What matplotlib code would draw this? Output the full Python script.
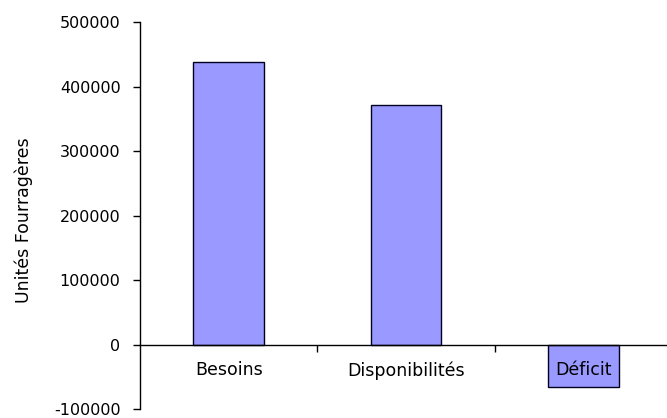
import matplotlib
matplotlib.use("Agg")
import matplotlib.pyplot as plt
from matplotlib.ticker import FixedLocator

# Forage balance (fodder units)
categories = ["Besoins", "Disponibilités", "Déficit"]
values = [438000, 372000, -66000]
yticks = [-100000, 0, 100000, 200000, 300000, 400000, 500000]
ylabel = "Unités Fourragères"

plt.rcParams["font.family"] = ["DejaVu Sans"]

fig = plt.figure(figsize=(6.67, 4.18), dpi=100)
fig.patch.set_facecolor("white")
ax = fig.add_axes([0.2099, 0.0215, 0.7976, 0.9255])

x = list(range(len(categories)))
ax.bar(x, values, width=0.4, color="#9999FF", edgecolor="#000020",
       linewidth=1.0, zorder=1)

ax.set_xlim(-0.5, len(categories) - 0.5)
ax.set_ylim(-100000, 500000)
ax.set_yticks(yticks)
ax.set_yticklabels([str(v) for v in yticks])

# Category axis crosses the value axis at zero
for side in ("top", "right"):
    ax.spines[side].set_visible(False)
ax.spines["bottom"].set_position(("data", 0))
ax.spines["bottom"].set_linewidth(1.0)
ax.spines["left"].set_linewidth(1.0)

ax.set_xticks(x)
ax.set_xticklabels(categories, fontsize=12.5)
ax.xaxis.set_minor_locator(FixedLocator([0.5, 1.5]))
ax.tick_params(axis="x", which="major", length=0, pad=12)
ax.tick_params(axis="x", which="minor", direction="out", length=5, width=1.0)
ax.tick_params(axis="y", direction="out", length=5, width=1.0, pad=9,
               labelsize=11.5)

ax.set_ylabel(ylabel, fontsize=12.5)
ax.yaxis.set_label_coords(-0.201, 0.488)

fig.savefig("out.png", dpi=100, facecolor="white")
